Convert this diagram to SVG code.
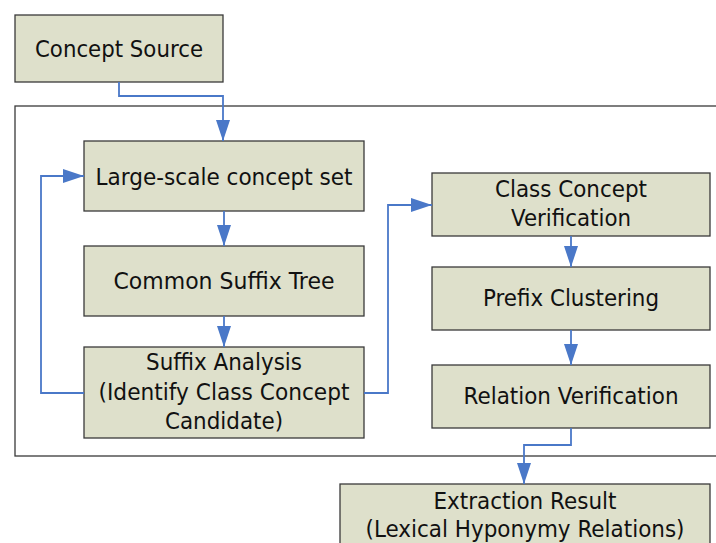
<svg xmlns="http://www.w3.org/2000/svg" width="716" height="543" viewBox="0 0 716 543">
  <style>
    .box { fill: #dee0cb; stroke: #3a3a3a; stroke-width: 1.3; }
    .frame { fill: none; stroke: #3a3a3a; stroke-width: 1.3; }
    .lbl { font-family: "DejaVu Sans", Verdana, sans-serif; font-size: 23px; fill: #111; text-anchor: middle; }
    .link { fill: none; stroke: #4a78c8; stroke-width: 1.8; }
  </style>
  <defs>
    <marker id="arrow" markerUnits="userSpaceOnUse" markerWidth="21" markerHeight="14" refX="21" refY="7" viewBox="0 0 21 14" orient="auto">
      <path d="M0,0 L21,7 L0,14 Z" fill="#4a78c8"/>
    </marker>
  </defs>
  <rect width="716" height="543" fill="#ffffff"/>

  <!-- processing frame -->
  <rect class="frame" x="15" y="106" width="720" height="350"/>

  <g id="concept-source">
    <rect class="box" x="15" y="15" width="208" height="67"/>
    <text class="lbl" x="119" y="57" textLength="168" lengthAdjust="spacingAndGlyphs">Concept Source</text>
  </g>
  <g id="concept-set">
    <rect class="box" x="84" y="141" width="280" height="70"/>
    <text class="lbl" x="224" y="185" textLength="257" lengthAdjust="spacingAndGlyphs">Large-scale concept set</text>
  </g>
  <g id="suffix-tree">
    <rect class="box" x="84" y="246" width="280" height="70"/>
    <text class="lbl" x="224" y="289" textLength="221" lengthAdjust="spacingAndGlyphs">Common Suffix Tree</text>
  </g>
  <g id="suffix-analysis">
    <rect class="box" x="84" y="347" width="280" height="91"/>
    <text class="lbl" x="224" y="370" textLength="156" lengthAdjust="spacingAndGlyphs">Suffix Analysis</text>
    <text class="lbl" x="224" y="400" textLength="251" lengthAdjust="spacingAndGlyphs">(Identify Class Concept</text>
    <text class="lbl" x="224" y="429" textLength="118" lengthAdjust="spacingAndGlyphs">Candidate)</text>
  </g>
  <g id="class-verification">
    <rect class="box" x="432" y="173" width="278" height="63"/>
    <text class="lbl" x="571" y="197" textLength="152" lengthAdjust="spacingAndGlyphs">Class Concept</text>
    <text class="lbl" x="571" y="226" textLength="120" lengthAdjust="spacingAndGlyphs">Verification</text>
  </g>
  <g id="prefix-clustering">
    <rect class="box" x="432" y="267" width="278" height="63"/>
    <text class="lbl" x="571" y="306" textLength="176" lengthAdjust="spacingAndGlyphs">Prefix Clustering</text>
  </g>
  <g id="relation-verification">
    <rect class="box" x="432" y="365" width="278" height="63"/>
    <text class="lbl" x="571" y="404" textLength="215" lengthAdjust="spacingAndGlyphs">Relation Verification</text>
  </g>
  <g id="extraction-result">
    <rect class="box" x="340" y="484" width="370" height="70"/>
    <text class="lbl" x="525" y="509" textLength="183" lengthAdjust="spacingAndGlyphs">Extraction Result</text>
    <text class="lbl" x="525" y="537" textLength="319" lengthAdjust="spacingAndGlyphs">(Lexical Hyponymy Relations)</text>
  </g>

  <g id="connectors">
    <path class="link" d="M119,82 V96 H223 V141" marker-end="url(#arrow)"/>
    <path class="link" d="M224,211 V246" marker-end="url(#arrow)"/>
    <path class="link" d="M224,316 V347" marker-end="url(#arrow)"/>
    <path class="link" d="M84,393 H41 V176 H84" marker-end="url(#arrow)"/>
    <path class="link" d="M364,393 H388 V205 H432" marker-end="url(#arrow)"/>
    <path class="link" d="M571,236 V267" marker-end="url(#arrow)"/>
    <path class="link" d="M571,330 V365" marker-end="url(#arrow)"/>
    <path class="link" d="M571,428 V445 H524 V484" marker-end="url(#arrow)"/>
  </g>
</svg>
